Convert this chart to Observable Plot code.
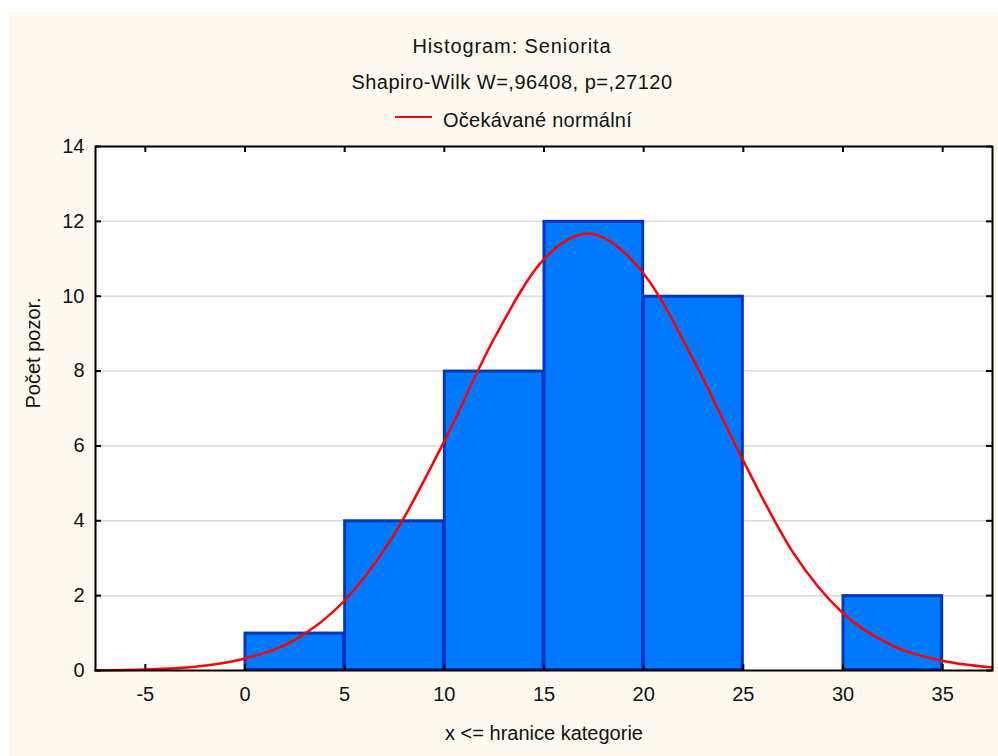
<!DOCTYPE html>
<html>
<head>
<meta charset="utf-8">
<script src="https://cdn.jsdelivr.net/npm/d3@7"></script>
<script src="https://cdn.jsdelivr.net/npm/@observablehq/plot@0.6"></script>
<style>
  body { margin: 0; background: #fff; width: 998px; height: 756px; position: relative; overflow: hidden;
         font-family: "Liberation Sans", Arial, sans-serif; color: #111; }
  #panel { position: absolute; left: 9px; top: 12px; right: 0; bottom: 0; background: #fef9ef; }
  .t { position: absolute; left: 262px; width: 500px; text-align: center; font-size: 20px; line-height: 20px; white-space: nowrap; }
  #title { top: 36px; letter-spacing: 0.9px; }
  #subtitle { top: 72px; letter-spacing: 0.5px; }
  #legend { position: absolute; left: 395px; top: 110px; height: 20px; font-size: 20px; line-height: 20px; white-space: nowrap; letter-spacing: 0.25px; }
  #legend .sw { position: absolute; left: 0; top: 6px; width: 37px; height: 0; border-top: 2.5px solid #ff0000; }
  #legend .lb { position: absolute; left: 48px; top: 0; }
  #chart { position: absolute; left: 0; top: 134px; }
</style>
</head>
<body>
<div id="panel"></div>
<div class="t" id="title">Histogram: Seniorita</div>
<div class="t" id="subtitle">Shapiro-Wilk W=,96408, p=,27120</div>
<div id="legend"><span class="sw"></span><span class="lb">Očekávané normální</span></div>
<div id="chart"></div>
<script>
// Histogram bins (upper bound inclusive) and counts
const binEdges = [0, 5, 10, 15, 20, 25, 30, 35];
const counts   = [1, 4, 8, 12, 10, 0, 2];

// Expected normal curve, sampled along x
const curveX = [-7.5, -5, -2.5, 0, 2.5, 5, 7.5, 10, 12.5, 15, 17.2, 20, 22.5, 25, 27.5, 30, 32.5, 35, 37.5];
const curveY = [0.01, 0.03, 0.10, 0.32, 0.82, 1.87, 3.65, 6.13, 8.87, 10.99, 11.67, 10.6, 8.3, 5.6, 3.15, 1.53, 0.66, 0.26, 0.08];

// Axis ticks
const xTicks = [-5, 0, 5, 10, 15, 20, 25, 30, 35];
const yTicks = [0, 2, 4, 6, 8, 10, 12, 14];

const xLabel = "x <= hranice kategorie";
const yLabel = "Počet pozor.";

const bins = counts.map((c, i) => ({lo: binEdges[i], hi: binEdges[i + 1], count: c})).filter(d => d.count > 0);
const curve = curveX.map((x, i) => ({x, y: curveY[i]}));

const W = 998, H = 622;
const mL = 95, mR = 6, mT = 12, mB = 86;
const innerW = W - mL - mR, innerH = H - mT - mB;
const plain = d => String(d); // hyphen-minus for negative ticks

const chart = Plot.plot({
  width: W,
  height: H,
  marginLeft: mL,
  marginRight: mR,
  marginTop: mT,
  marginBottom: mB,
  style: {background: "transparent", fontFamily: "'Liberation Sans', Arial, sans-serif", fontSize: "20px", color: "#111"},
  x: {domain: [-7.5, 37.5]},
  y: {domain: [0, 14]},
  marks: [
    Plot.frame({fill: "white", stroke: "none"}),
    Plot.ruleY(yTicks.filter(v => v > 0 && v < 14), {stroke: "#d9d9d9", strokeWidth: 1.5}),
    Plot.rectY(bins, {x1: "lo", x2: "hi", y: "count", fill: "#0079ff", stroke: "#0036c0", strokeWidth: 3, inset: 0.5}),
    Plot.line(curve, {x: "x", y: "y", stroke: "#ff0000", strokeWidth: 2.5, curve: "monotone-x"}),
    Plot.frame({stroke: "#000", strokeWidth: 2}),
    // inward tick marks on all four sides
    Plot.tickX(xTicks, {x: d => d, insetTop: innerH - 6, stroke: "#000", strokeWidth: 2}),
    Plot.tickX(xTicks, {x: d => d, insetBottom: innerH - 6, stroke: "#000", strokeWidth: 2}),
    Plot.tickY(yTicks, {y: d => d, insetRight: innerW - 6, stroke: "#000", strokeWidth: 2}),
    Plot.tickY(yTicks, {y: d => d, insetLeft: innerW - 6, stroke: "#000", strokeWidth: 2}),
    Plot.axisX(xTicks, {tickSize: 0, tickPadding: 16, label: null, fontSize: 20, tickFormat: plain}),
    Plot.axisY(yTicks, {tickSize: 0, tickPadding: 11, label: null, fontSize: 20, tickFormat: plain}),
    Plot.text([xLabel], {text: d => d, frameAnchor: "bottom", dy: 69, fontSize: 20, letterSpacing: 0.6}),
    Plot.text([yLabel], {text: d => d, frameAnchor: "left", dx: -62, rotate: -90, fontSize: 20})
  ]
});
document.getElementById("chart").appendChild(chart);
</script>
</body>
</html>
